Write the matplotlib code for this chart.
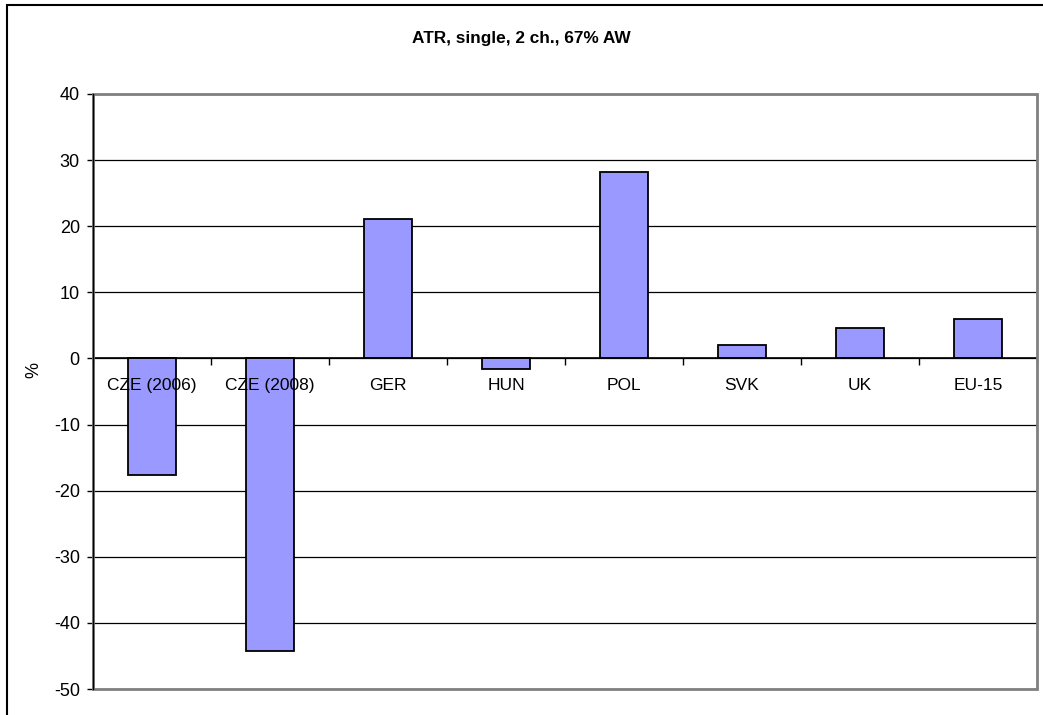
import matplotlib
matplotlib.use('Agg')
import matplotlib.pyplot as plt
from matplotlib.patches import Rectangle

plt.rcParams['font.family'] = ['Liberation Sans', 'DejaVu Sans']
plt.rcParams['axes.unicode_minus'] = False

countries = ['CZE (2006)', 'CZE (2008)', 'GER', 'HUN', 'POL', 'SVK', 'UK', 'EU-15']
atr = [-17.6, -44.2, 21.1, -1.6, 28.2, 2.0, 4.6, 6.0]
yticks = [40, 30, 20, 10, 0, -10, -20, -30, -40, -50]

fig = plt.figure(figsize=(10.43, 7.15), dpi=100)
ax = fig.add_axes([93 / 1043, 26 / 715, 944 / 1043, 595 / 715])

x = list(range(len(countries)))
ax.bar(x, atr, width=0.4, color='#9999ff', edgecolor='black', linewidth=1.3, zorder=3)

ax.set_xlim(-0.5, len(countries) - 0.5)
ax.set_ylim(-50, 40)
ax.set_yticks(yticks)
ax.grid(axis='y', color='black', linewidth=0.9, zorder=0)

# x axis sits on zero line, ticks between categories
ax.spines['bottom'].set_position(('data', 0))
ax.spines['bottom'].set_color('black')
ax.spines['bottom'].set_linewidth(1.2)
ax.spines['bottom'].set_zorder(4)
for s in ['top', 'right', 'left']:
    ax.spines[s].set_visible(False)
ax.set_xticks(x)
ax.set_xticklabels([])
ax.set_xticks([i - 0.5 for i in range(len(countries) + 1)], minor=True)
ax.tick_params(axis='x', which='major', length=0)
ax.tick_params(axis='x', which='minor', length=5, width=1, direction='out', color='black')
ax.tick_params(axis='y', length=4.5, width=1, direction='out', pad=5, labelsize=13, color='black')

# category labels drawn over the bars, just under the zero line
for i, name in enumerate(countries):
    ax.annotate(name, (i, 0), xytext=(0, -14), textcoords='offset points',
                ha='center', va='top', fontsize=12.5, zorder=10)

# plot area frame
ax.add_patch(Rectangle((0, 0), 1, 1, transform=ax.transAxes, fill=False,
                       edgecolor='#808080', linewidth=2, clip_on=False, zorder=5))
ax.plot([0, 0], [0, 1], transform=ax.transAxes, color='black', lw=1, clip_on=False, zorder=6)

ax.set_ylabel('%', fontsize=13)
ax.yaxis.set_label_coords(-0.054, 0.536)

fig.text(0.4995, 1 - 38 / 715, 'ATR, single, 2 ch., 67% AW', ha='center', va='center',
         fontsize=12.4, fontweight='bold')

# outer chart border
fig.add_artist(Rectangle((7 / 1043, -0.05), 1.1, 1 - 5 / 715 + 0.05, transform=fig.transFigure,
                         fill=False, edgecolor='black', linewidth=1.5))

fig.savefig('out.png', dpi=100)
